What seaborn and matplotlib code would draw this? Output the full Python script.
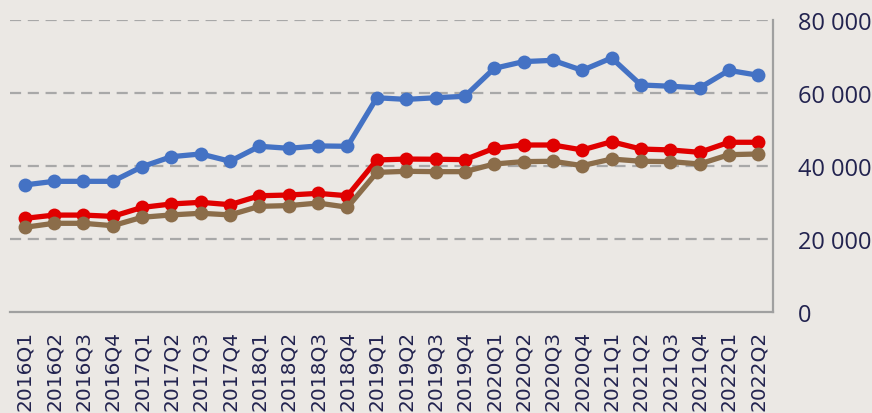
import matplotlib
matplotlib.use("Agg")
import matplotlib.pyplot as plt
import seaborn as sns
import pandas as pd
from matplotlib.ticker import FuncFormatter

quarters = ["2016Q1", "2016Q2", "2016Q3", "2016Q4", "2017Q1", "2017Q2", "2017Q3", "2017Q4",
            "2018Q1", "2018Q2", "2018Q3", "2018Q4", "2019Q1", "2019Q2", "2019Q3", "2019Q4",
            "2020Q1", "2020Q2", "2020Q3", "2020Q4", "2021Q1", "2021Q2", "2021Q3", "2021Q4",
            "2022Q1", "2022Q2"]

blue_vals = [34800, 35800, 35800, 35800, 39800, 42550, 43300, 41300,
             45400, 44850, 45500, 45400, 58700, 58250, 58700, 59100,
             66750, 68600, 68950, 66200, 69600, 62200, 61850, 61400,
             66200, 64850]
red_vals = [25650, 26550, 26550, 26200, 28650, 29600, 30050, 29400,
            31850, 32050, 32500, 31850, 41650, 41900, 41850, 41750,
            44850, 45750, 45750, 44400, 46650, 44650, 44400, 43750,
            46500, 46500]
brown_vals = [23200, 24300, 24300, 23650, 25950, 26600, 27050, 26600,
              28950, 29150, 29850, 28700, 38250, 38550, 38450, 38450,
              40550, 41200, 41300, 40100, 41900, 41300, 41200, 40550,
              43100, 43300]

series_names = ["blue", "red", "brown"]
series_colors = ["#4472C4", "#E00000", "#8B6D4A"]

df = pd.concat([
    pd.DataFrame({"quarter": quarters, "value": v, "series": n})
    for n, v in zip(series_names, [blue_vals, red_vals, brown_vals])
], ignore_index=True)

bg = "#EBE8E4"
txt = "#22234F"

sns.set_theme(style="white")
plt.rcParams["font.family"] = ["Open Sans", "DejaVu Sans"]

fig = plt.figure(figsize=(8.72, 4.14), dpi=100, facecolor=bg)
ax = fig.add_axes([10 / 872, 1 - 313 / 414, (773 - 10) / 872, (313 - 21) / 414])
ax.set_facecolor(bg)

sns.lineplot(data=df, x="quarter", y="value", hue="series", hue_order=series_names,
             palette=series_colors, marker="o", markersize=10, markeredgewidth=0,
             linewidth=3.8, sort=False, legend=False, ax=ax, zorder=3)

ax.set_xlim(-0.5, len(quarters) - 0.5)
ax.set_ylim(0, 80000)
ax.set_yticks([0, 20000, 40000, 60000, 80000])
ax.yaxis.set_major_formatter(FuncFormatter(lambda v, p: f"{int(v):,}".replace(",", " ")))
ax.yaxis.tick_right()
ax.set_xlabel("")
ax.set_ylabel("")

for y in [20000, 40000, 60000, 80000]:
    ax.axhline(y, color="#A8A8A8", linewidth=1.6, linestyle=(0, (5, 3)), zorder=1)

for s in ["top", "left"]:
    ax.spines[s].set_visible(False)
for s in ["bottom", "right"]:
    ax.spines[s].set_color("#A0A0A0")
    ax.spines[s].set_linewidth(1.6)

ax.tick_params(axis="y", length=0, pad=18, labelsize=17, labelcolor=txt)
ax.tick_params(axis="x", length=0, pad=13, labelcolor=txt)
for lbl in ax.get_xticklabels():
    lbl.set_rotation(90)
    lbl.set_fontfamily("DejaVu Sans")
    lbl.set_fontsize(14.5)
for lbl in ax.get_yticklabels():
    lbl.set_horizontalalignment("left")

fig.savefig("out.png", dpi=100, facecolor=bg)
